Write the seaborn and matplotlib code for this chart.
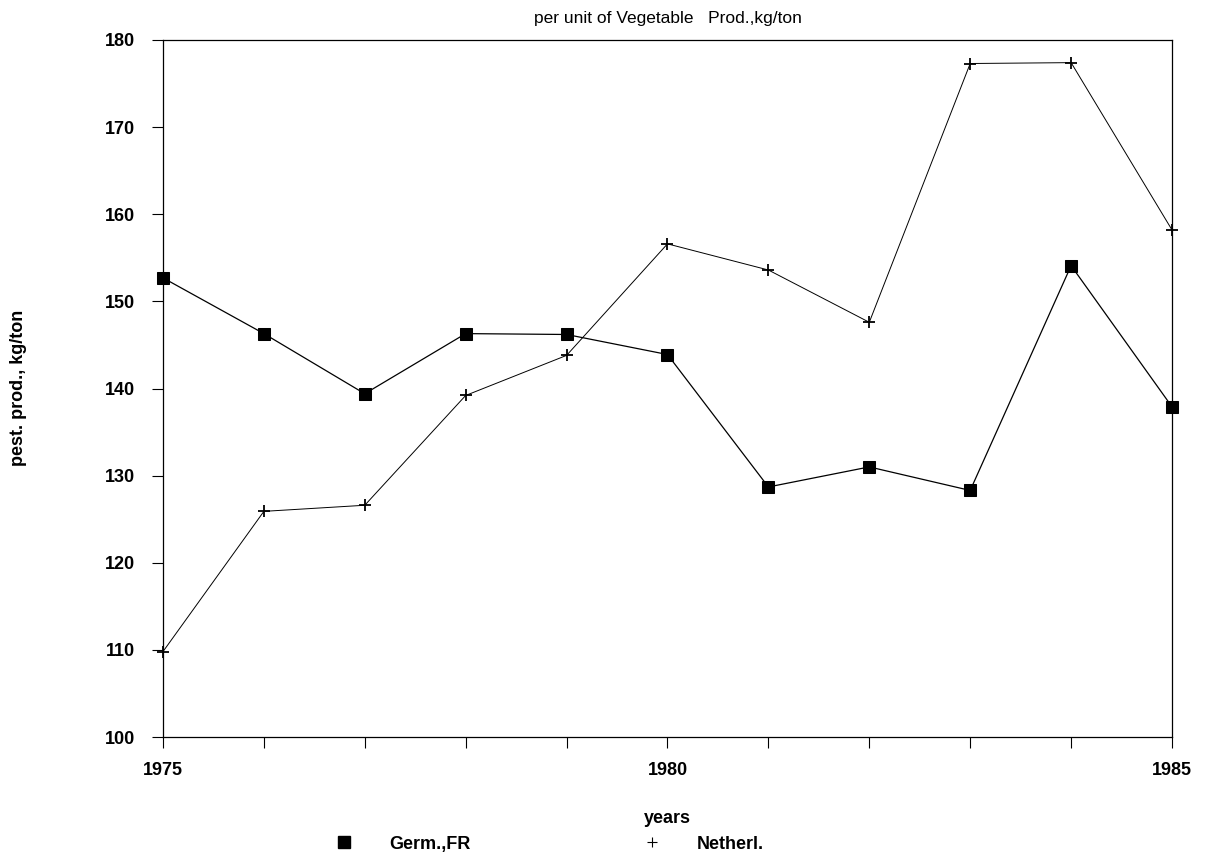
import pandas as pd
import seaborn as sns
import matplotlib.pyplot as plt
from matplotlib.lines import Line2D

# Dados
anos = [1975, 1976, 1977, 1978, 1979, 1980, 1981, 1982, 1983, 1984, 1985]
germ_fr = [152.7, 146.3, 139.4, 146.3, 146.2, 143.9, 128.7, 131.0, 128.3, 154.1, 137.9]
netherl = [109.8, 125.9, 126.6, 139.2, 143.8, 156.6, 153.6, 147.6, 177.3, 177.4, 158.2]
rotulos_x = ['1975', '', '', '', '', '1980', '', '', '', '', '1985']
ticks_y = [100, 110, 120, 130, 140, 150, 160, 170, 180]

df = pd.DataFrame({'ano': anos, 'Germ.,FR': germ_fr, 'Netherl.': netherl})

sns.set_style('white')
plt.rcParams['font.family'] = ['Liberation Sans', 'DejaVu Sans']
plt.rcParams['text.color'] = 'black'
plt.rcParams['axes.labelcolor'] = 'black'
plt.rcParams['xtick.color'] = 'black'
plt.rcParams['ytick.color'] = 'black'

fig = plt.figure(figsize=(12.08, 8.58), dpi=100)
ax = fig.add_axes([0.1349, 0.141, 0.8353, 0.8124])

sns.lineplot(x='ano', y='Germ.,FR', data=df, ax=ax, color='black', linewidth=0.9,
             marker='s', markersize=9, markeredgecolor='black', clip_on=False)
sns.lineplot(x='ano', y='Netherl.', data=df, ax=ax, color='black', linewidth=0.7,
             marker='+', markersize=9, markeredgewidth=1.3, markeredgecolor='black',
             clip_on=False)

ax.set_xlim(1975, 1985)
ax.set_ylim(100, 180)
ax.set_xticks(anos)
ax.set_xticklabels(rotulos_x)
ax.set_yticks(ticks_y)
ax.tick_params(axis='both', direction='out', length=8, width=0.8, labelsize=13,
               bottom=True, left=True, colors='black')
ax.tick_params(axis='y', pad=12)
ax.tick_params(axis='x', pad=10)
for lbl in ax.get_xticklabels() + ax.get_yticklabels():
    lbl.set_fontweight('bold')
for s in ax.spines.values():
    s.set_visible(True)
    s.set_color('black')
    s.set_linewidth(0.9)

ax.set_xlabel('years', fontsize=13, fontweight='bold', labelpad=22)
ax.set_ylabel('')
ax.set_title('per unit of Vegetable   Prod.,kg/ton', fontsize=12.5, pad=12)
fig.text(0.015, 1 - 388 / 858, 'pest. prod., kg/ton', rotation=90, fontsize=13,
         fontweight='bold', ha='center', va='center')

# Legenda abaixo do gráfico
handles = [Line2D([], [], color='black', marker='s', linestyle='none', markersize=9),
           Line2D([], [], color='black', marker='+', linestyle='none', markersize=7,
                  markeredgewidth=0.8)]
fig.legend(handles, ['Germ.,FR', 'Netherl.'], loc='center', ncol=2,
           bbox_to_anchor=(0.455, 0.016), frameon=False,
           prop={'size': 13, 'weight': 'bold'},
           handlelength=1, handletextpad=2.0, columnspacing=9.5)

plt.savefig('out.png', dpi=100)
